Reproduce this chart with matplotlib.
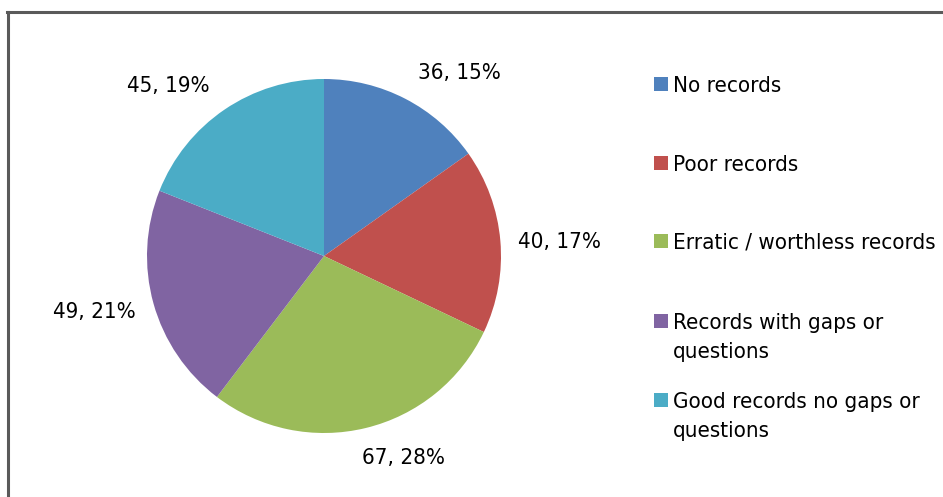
import matplotlib
matplotlib.use("Agg")
import matplotlib.pyplot as plt
from matplotlib.lines import Line2D
from matplotlib.patches import Rectangle

categories = ["No records", "Poor records", "Erratic / worthless records",
              "Records with gaps or\nquestions", "Good records no gaps or\nquestions"]
values = [36, 40, 67, 49, 45]
colors = ["#4F81BD", "#C0504D", "#9BBB59", "#8064A2", "#4BACC6"]

# label anchor points (pixels from top-left)
label_pos = [(459, 73), (559, 242), (404, 458), (94, 312), (168, 86)]
# legend baselines (pixels from top)
legend_base = [92, 171, 249, 329, 408]
line_step = 29

W, H = 943, 497
plt.rcParams['font.family'] = ['Liberation Sans Narrow', 'DejaVu Sans']
plt.rcParams['font.stretch'] = 'condensed'

fig = plt.figure(figsize=(W / 100, H / 100), dpi=100)
ax = fig.add_axes([0, 0, 1, 1])

ax.pie(values, colors=colors, startangle=90, counterclock=False,
       center=(324, H - 256), radius=177, frame=True,
       wedgeprops=dict(linewidth=0))
ax.set_xlim(0, W)
ax.set_ylim(0, H)
ax.axis("off")

total = sum(values)
for v, (x, y) in zip(values, label_pos):
    ax.text(x, H - y, f"{v}, {round(v / total * 100)}%", ha="center", va="center",
            fontsize=16, fontstretch="condensed", color="black")

for lab, col, yb in zip(categories, colors, legend_base):
    ax.add_patch(Rectangle((654, H - yb + 1), 14, 14, facecolor=col, edgecolor="none"))
    for i, line in enumerate(lab.split("\n")):
        ax.text(673, H - yb - i * line_step, line, ha="left", va="baseline",
                fontsize=16, fontstretch="condensed", color="black")

# chart border (only top and left edges are visible)
fig.add_artist(Line2D([7 / W, 941 / W], [1 - 11.5 / H, 1 - 11.5 / H],
                      color="#5a5a5a", linewidth=2.2))
fig.add_artist(Line2D([8 / W, 8 / W], [0, 1 - 11.5 / H],
                      color="#5a5a5a", linewidth=2.2))

fig.savefig("out.png", dpi=100, facecolor="white")
